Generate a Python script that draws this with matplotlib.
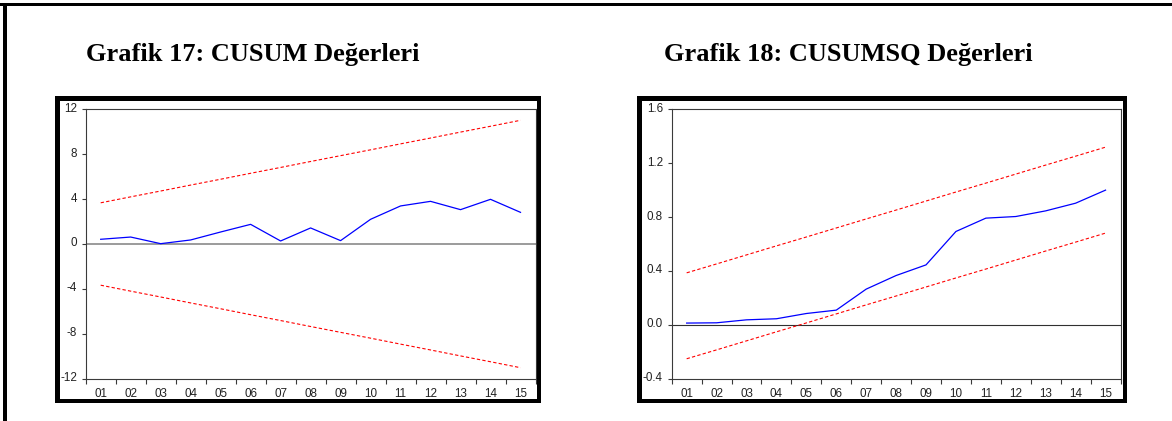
import matplotlib
matplotlib.use("Agg")
import matplotlib.pyplot as plt
from matplotlib.patches import Rectangle
from matplotlib.transforms import ScaledTranslation

# Period labels shared by both panels
periods = ["01", "02", "03", "04", "05", "06", "07", "08",
           "09", "10", "11", "12", "13", "14", "15"]

# CUSUM statistic and its 5% significance band
cusum = [0.42, 0.62, 0.03, 0.36, 1.07, 1.75, 0.27, 1.43,
         0.30, 2.20, 3.39, 3.80, 3.06, 3.98, 2.82]
cusum_upper = [3.67, 4.20, 4.72, 5.25, 5.77, 6.30, 6.82, 7.35,
               7.87, 8.39, 8.92, 9.44, 9.97, 10.49, 11.02]
cusum_lower = [-3.67, -4.20, -4.72, -5.25, -5.77, -6.30, -6.82, -7.35,
               -7.87, -8.39, -8.92, -9.44, -9.97, -10.49, -11.02]
cusum_yticks = [-12, -8, -4, 0, 4, 8, 12]

# CUSUM of squares statistic and its 5% significance band
cusumsq = [0.013, 0.015, 0.037, 0.045, 0.084, 0.109, 0.265, 0.366,
           0.445, 0.693, 0.792, 0.804, 0.846, 0.903, 1.000]
cusumsq_upper = [0.386, 0.452, 0.519, 0.586, 0.652, 0.719, 0.786, 0.852,
                 0.919, 0.986, 1.052, 1.119, 1.186, 1.252, 1.319]
cusumsq_lower = [-0.252, -0.186, -0.119, -0.052, 0.014, 0.081, 0.148, 0.214,
                 0.281, 0.348, 0.414, 0.481, 0.548, 0.614, 0.681]
cusumsq_yticks = [-0.4, 0.0, 0.4, 0.8, 1.2, 1.6]

titles = ["Grafik 17: CUSUM Değerleri", "Grafik 18: CUSUMSQ Değerleri"]

W, H = 1172, 421
fig = plt.figure(figsize=(W / 100, H / 100), dpi=100)
fig.patch.set_facecolor("white")


def px_box(x0, y0, x1, y1):
    """Convert a pixel box (top-left origin) to figure fractions."""
    return [x0 / W, 1 - y1 / H, (x1 - x0) / W, (y1 - y0) / H]


def black_bar(x0, y0, x1, y1):
    l, b, w, h = px_box(x0, y0, x1, y1)
    fig.add_artist(Rectangle((l, b), w, h, transform=fig.transFigure,
                             facecolor="black", edgecolor="none", zorder=5))


def thick_frame(x0, y0, x1, y1, t=4.5):
    black_bar(x0, y0, x1, y0 + t)
    black_bar(x0, y1 - t, x1, y1)
    black_bar(x0, y0, x0 + t, y1)
    black_bar(x1 - t, y0, x1, y1)


# page border (top and left edges)
black_bar(0, 2.7, W, 6)
black_bar(3, 2.7, 7, H)

label_font = "Liberation Sans"
spine_col = "#3a3a3a"
label_size = 8.4


def panel(ax_box, frame_box, title_x, title, values, upper, lower, yticks,
          ylim, fmt, zero_col, zero_lw):
    ax = fig.add_axes(px_box(*ax_box))
    x = list(range(1, len(periods) + 1))
    ax.plot(x, upper, color="#ff0000", lw=0.8, ls=(0, (3, 2)), zorder=3)
    ax.plot(x, lower, color="#ff0000", lw=0.8, ls=(0, (3, 2)), zorder=3)
    ax.plot(x, values, color="#0000ff", lw=0.9, zorder=4)
    ax.axhline(0, color=zero_col, lw=zero_lw, zorder=2)

    ax.set_xlim(0.5, len(periods) + 0.5)
    ax.set_ylim(*ylim)

    # category boundaries carry the tick marks, centres carry the labels
    ax.set_xticks([i + 0.5 for i in range(0, len(periods) + 1)])
    ax.set_xticklabels([])
    ax.set_xticks(x, minor=True)
    ax.set_xticklabels(periods, minor=True)
    ax.tick_params(axis="x", which="major", direction="out", length=3.6,
                   width=0.8, color=spine_col, top=False)
    ax.tick_params(axis="x", which="minor", length=0, pad=6.6,
                   labelsize=label_size, labelcolor="#222222")

    ax.set_yticks(yticks)
    ax.set_yticklabels([fmt.format(v) for v in yticks])
    ax.tick_params(axis="y", direction="out", length=3.0, width=0.8,
                   color=spine_col, pad=3.3, labelsize=label_size,
                   labelcolor="#222222", right=False)
    for lab in ax.get_xticklabels(minor=True):
        lab.set_fontfamily(label_font)
    lift = ScaledTranslation(0, 2 / 100, fig.dpi_scale_trans)
    for lab in ax.get_yticklabels():
        lab.set_fontfamily(label_font)
        lab.set_verticalalignment("center_baseline")
        lab.set_transform(lab.get_transform() + lift)

    for s in ax.spines.values():
        s.set_color(spine_col)
        s.set_linewidth(0.8)

    thick_frame(*frame_box)
    fig.text(title_x / W, 1 - 61 / H, title, ha="center", va="baseline",
             fontsize=19, fontweight="bold", family="Liberation Serif",
             color="black")
    return ax


panel((85.7, 109.3, 535.5, 378.7), (55, 96, 541, 403), 253, titles[0],
      cusum, cusum_upper, cusum_lower, cusum_yticks, (-12, 12), "{:d}",
      "#808080", 1.1)

panel((671.7, 109.3, 1120.5, 378.7), (637, 96, 1127, 403), 848, titles[1],
      cusumsq, cusumsq_upper, cusumsq_lower, cusumsq_yticks, (-0.4, 1.6),
      "{:.1f}", "#303030", 0.8)

fig.savefig("out.png", dpi=100)
